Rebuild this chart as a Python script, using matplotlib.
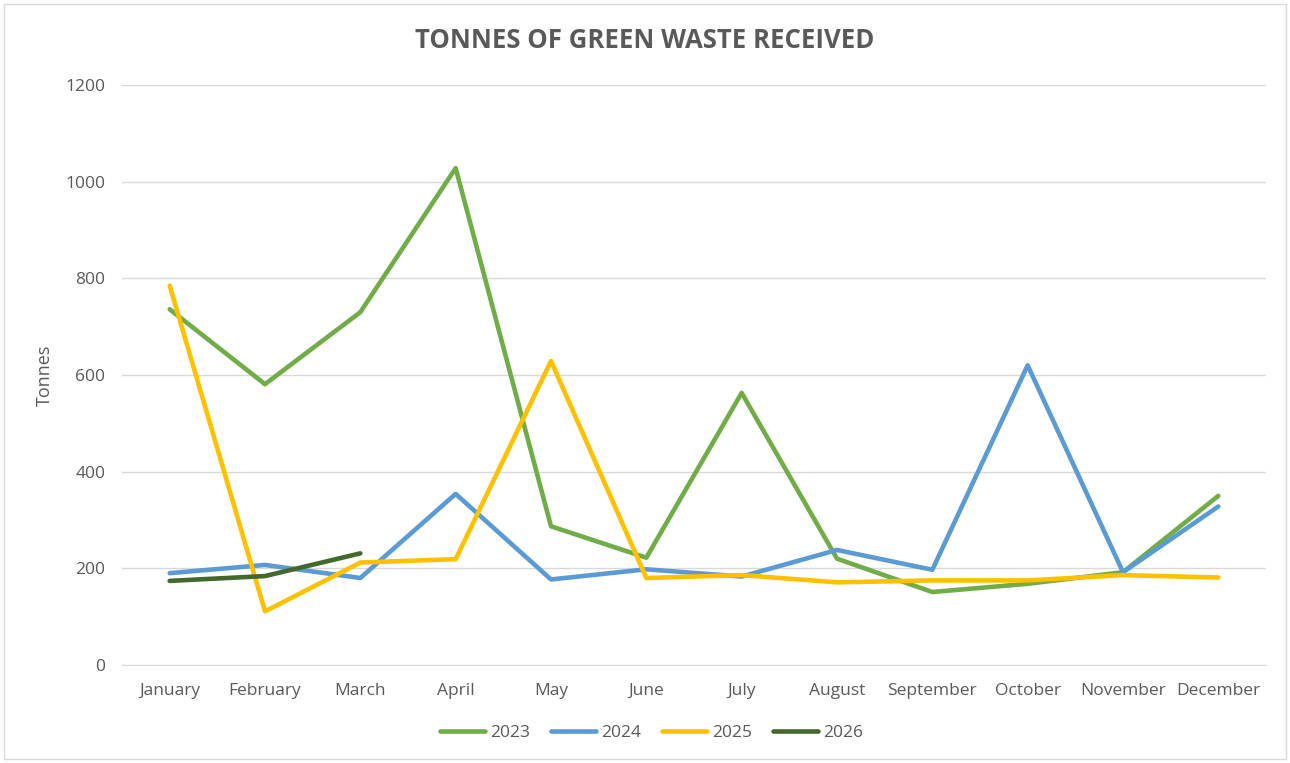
import matplotlib
matplotlib.use("Agg")
import matplotlib.pyplot as plt
from matplotlib.patches import Rectangle

months = ["January", "February", "March", "April", "May", "June", "July",
          "August", "September", "October", "November", "December"]
y2023 = [736, 581, 730, 1028, 287, 222, 563, 220, 151, 168, 192, 350]
y2024 = [190, 207, 180, 354, 177, 198, 183, 238, 197, 620, 192, 328]
y2025 = [785, 111, 212, 219, 629, 180, 186, 171, 175, 175, 186, 181]
y2026 = [174, 184, 231]
yticks = [0, 200, 400, 600, 800, 1000, 1200]

plt.rcParams['font.family'] = ['Open Sans', 'DejaVu Sans']
txt = '#595959'

fig = plt.figure(figsize=(12.9, 7.63), dpi=100)
fig.patches.append(Rectangle((0.003, 0.005), 0.994, 0.99, transform=fig.transFigure,
                             fill=False, edgecolor='#d9d9d9', linewidth=1))
ax = fig.add_axes([122/1290, 1-665/763, (1266-122)/1290, (665-85)/763])

x = list(range(len(months)))
lw = 3.3
ax.plot(x, y2023, color='#70ad47', lw=lw, label='2023', solid_capstyle='round', zorder=3)
ax.plot(x, y2024, color='#5b9bd5', lw=lw, label='2024', solid_capstyle='round', zorder=3)
ax.plot(x, y2025, color='#ffc000', lw=lw, label='2025', solid_capstyle='round', zorder=3)
ax.plot(x[:len(y2026)], y2026, color='#43682b', lw=lw, label='2026', solid_capstyle='round', zorder=3)

ax.set_xlim(-0.5, 11.5)
ax.set_ylim(0, 1200)
ax.set_yticks(yticks)
ax.set_yticklabels([str(v) for v in yticks])
ax.set_xticks(x)
ax.set_xticklabels(months)
ax.tick_params(axis='both', length=0, colors=txt, labelsize=12.5)
ax.tick_params(axis='x', pad=13)
ax.tick_params(axis='y', pad=12)
ax.grid(axis='y', color='#d9d9d9', lw=1)
ax.set_axisbelow(True)
for s in ['top', 'right', 'left']:
    ax.spines[s].set_visible(False)
ax.spines['bottom'].set_color('#d9d9d9')
ax.set_ylabel('Tonnes', color=txt, fontsize=13, labelpad=8)

fig.text(0.5, 1-40/763, 'TONNES OF GREEN WASTE RECEIVED', ha='center', va='center',
         fontsize=18.5, fontweight='bold', color=txt)

leg = fig.legend(loc='center', bbox_to_anchor=(0.505, 1-733/763), ncol=4, frameon=False,
                 fontsize=12.5, handlelength=2.6, columnspacing=1.2, handletextpad=0.3)
for t in leg.get_texts():
    t.set_color(txt)

fig.savefig('out.png', dpi=100)
